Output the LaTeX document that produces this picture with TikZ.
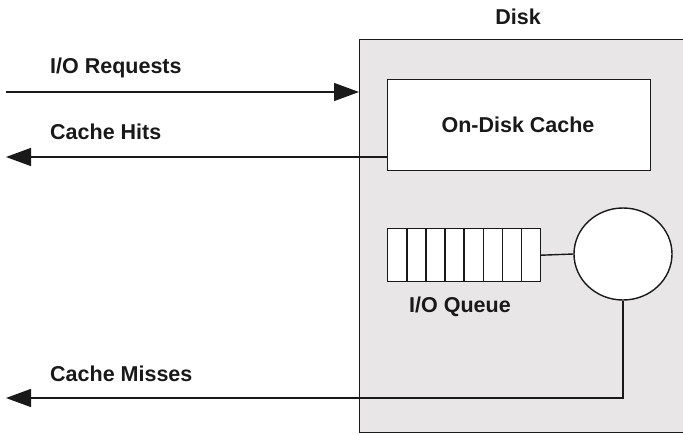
\documentclass[tikz,border=0pt]{standalone}
\usepackage{fontspec}
\setmainfont{Liberation Sans}
\usetikzlibrary{arrows.meta,calc,shapes.geometric}
\definecolor{diskgray}{RGB}{232,230,230}
\definecolor{ink}{RGB}{25,25,25}
\begin{document}
\begin{tikzpicture}[x=1pt,y=-1pt,
  lbl/.style={font=\fontsize{21.5}{24}\selectfont\bfseries, text=ink, inner sep=0pt},
  conn/.style={draw=ink, line width=1.4pt},
  arr/.style={conn, -{Triangle[length=25pt,width=18pt]}},
  boxw/.style={draw=ink, line width=1.4pt, fill=white}]
\useasboundingbox (0,0) rectangle (683,434);
% disk
\node[draw=ink, line width=1.4pt, fill=diskgray, minimum width=324pt, minimum height=393pt, anchor=north west, inner sep=0pt] (disk) at (359,39) {};
\node[lbl] (disklbl) at (518,17) {Disk};
% cache
\node[boxw, minimum width=263pt, minimum height=91pt, anchor=north west, inner sep=0pt] (cache) at (387,79) {};
\node[lbl] (cachelbl) at (518,125) {On-Disk Cache};
% queue
\foreach \i in {0,...,7} {
  \node[boxw, minimum width=19.1pt, minimum height=53pt, anchor=north west, inner sep=0pt] (q\i) at ({387+19.1*\i},228) {};
}
\node[lbl] (qlbl) at (460,307) {I/O Queue};
% server
\node[boxw, ellipse, minimum width=98pt, minimum height=92pt, inner sep=0pt] (srv) at (623,254) {};
\draw[conn] (q7.east) -- (srv.west);
% arrows
\coordinate (inL) at (6,92);
\coordinate (hitL) at (6,157);
\coordinate (missL) at (6,398);
\coordinate (missC) at (623,398);
\draw[arr] (inL) -- (disk.west |- inL);
\draw[arr] (cache.west |- hitL) -- (hitL);
\draw[arr] (srv.south) -- (missC) -- (missL);
\node[lbl, anchor=west] (reqlbl) at (50,68) {I/O Requests};
\node[lbl, anchor=west] (hitlbl) at (50,132) {Cache Hits};
\node[lbl, anchor=west] (misslbl) at (50,374) {Cache Misses};
\end{tikzpicture}
\end{document}
